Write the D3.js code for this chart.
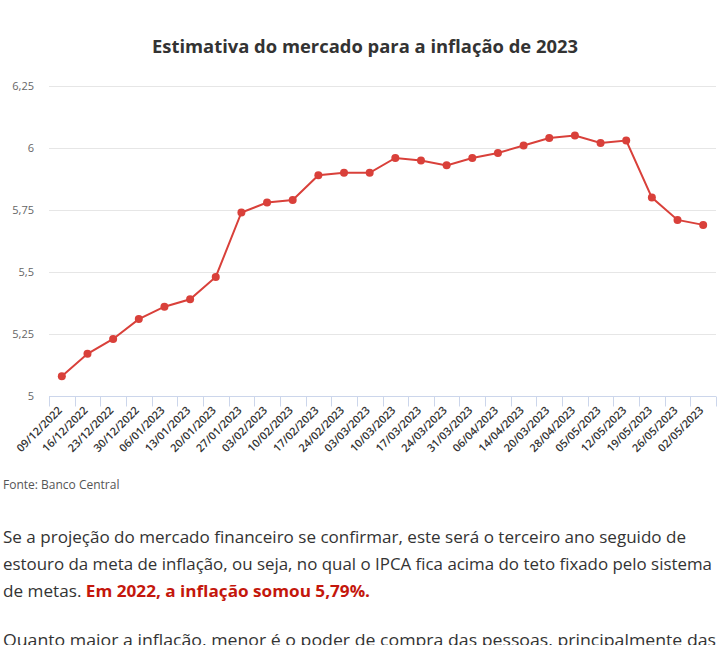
<!DOCTYPE html>
<html>
<head>
<meta charset="utf-8">
<script src="https://cdn.jsdelivr.net/npm/d3@7"></script>
<style>
  html, body { margin: 0; padding: 0; background: #fff; }
  svg { display: block; }
  text { font-family: "Open Sans", sans-serif; }
</style>
</head>
<body>
<svg id="chart" width="722" height="645"></svg>
<script>
const title = "Estimativa do mercado para a inflação de 2023";
const dates = ["09/12/2022","16/12/2022","23/12/2022","30/12/2022","06/01/2023","13/01/2023","20/01/2023","27/01/2023","03/02/2023","10/02/2023","17/02/2023","24/02/2023","03/03/2023","10/03/2023","17/03/2023","24/03/2023","31/03/2023","06/04/2023","14/04/2023","20/03/2023","28/04/2023","05/05/2023","12/05/2023","19/05/2023","26/05/2023","02/05/2023"];
const values = [5.08,5.17,5.23,5.31,5.36,5.39,5.48,5.74,5.78,5.79,5.89,5.90,5.90,5.96,5.95,5.93,5.96,5.98,6.01,6.04,6.05,6.02,6.03,5.80,5.71,5.69];
const yTicks = [5, 5.25, 5.5, 5.75, 6, 6.25];
const source = "Fonte: Banco Central";
const para1 = [
  [{t:"Se a projeção do mercado financeiro se confirmar, este será o terceiro ano seguido de"}],
  [{t:"estouro da meta de inflação, ou seja, no qual o IPCA fica acima do teto fixado pelo sistema"}],
  [{t:"de metas. "},{t:"Em 2022, a inflação somou 5,79%.", b:true}]
];
const para2 = [[{t:"Quanto maior a inflação, menor é o poder de compra das pessoas, principalmente das"}]];

const svg = d3.select("#chart");
const plotLeft = 49, plotRight = 716, plotTop = 86, plotBottom = 396;

const x = d3.scaleBand().domain(dates).range([plotLeft, plotRight]);
const y = d3.scaleLinear().domain([5, 6.25]).range([plotBottom, plotTop]);

svg.append("text")
  .attr("x", 365).attr("y", 53)
  .attr("text-anchor", "middle")
  .attr("font-size", 18.4).attr("font-weight", 700)
  .attr("fill", "#333")
  .text(title);

// grid
svg.append("g").selectAll("line").data(yTicks.filter(d => d !== 5)).join("line")
  .attr("x1", plotLeft).attr("x2", plotRight)
  .attr("y1", d => Math.round(y(d)) + 0.5).attr("y2", d => Math.round(y(d)) + 0.5)
  .attr("stroke", "#e6e6e6").attr("stroke-width", 1);

// y axis labels
const fmt = d => String(d).replace(".", ",");
svg.append("g").selectAll("text").data(yTicks).join("text")
  .attr("x", 34).attr("y", d => y(d) + 4)
  .attr("text-anchor", "end")
  .attr("font-size", 11).attr("fill", "#666")
  .text(fmt);

// x axis
const xAxis = d3.axisBottom(x).tickSize(0).tickFormat("");
const gx = svg.append("g").attr("transform", `translate(0,${plotBottom + 0.5})`).call(xAxis);
gx.select(".domain").attr("stroke", "#ccd6eb").attr("d", `M${plotLeft},0H${plotRight}`);
const bounds = dates.map(d => x(d)).concat([plotRight]);
gx.append("g").selectAll("line").data(bounds).join("line")
  .attr("x1", d => Math.round(d) + 0.5).attr("x2", d => Math.round(d) + 0.5)
  .attr("y1", 0).attr("y2", 10)
  .attr("stroke", "#ccd6eb");
svg.append("g").selectAll("text").data(dates).join("text")
  .attr("transform", d => `translate(${x(d) + x.bandwidth()/2 + 1},${plotBottom + 15}) rotate(-45)`)
  .attr("text-anchor", "end")
  .attr("font-size", 11).attr("font-weight", 600).attr("fill", "#333")
  .text(d => d);

// line
const line = d3.line().x((d, i) => x(dates[i]) + x.bandwidth()/2).y(d => y(d));
svg.append("path").datum(values)
  .attr("d", line).attr("fill", "none")
  .attr("stroke", "#d9403a").attr("stroke-width", 2);
svg.append("g").selectAll("circle").data(values).join("circle")
  .attr("cx", (d, i) => x(dates[i]) + x.bandwidth()/2)
  .attr("cy", d => y(d))
  .attr("r", 4).attr("fill", "#d9403a");

// source
svg.append("text").attr("x", 3).attr("y", 489)
  .attr("font-size", 12).attr("fill", "#555").text(source);

function drawPara(lines, y0, lh, widths) {
  lines.forEach((parts, i) => {
    const t = svg.append("text").attr("x", 3).attr("y", y0 + i * lh)
      .attr("font-size", 16.5).attr("fill", "#333")
      .attr("textLength", widths[i]).attr("lengthAdjust", "spacingAndGlyphs");
    parts.forEach(p => {
      const ts = t.append("tspan").text(p.t);
      if (p.b) ts.attr("font-weight", 700).attr("fill", "#c4170c");
    });
  });
}
drawPara(para1, 543, 27, [683, 709, 367]);
drawPara(para2, 646, 27, [713]);
</script>
</body>
</html>
